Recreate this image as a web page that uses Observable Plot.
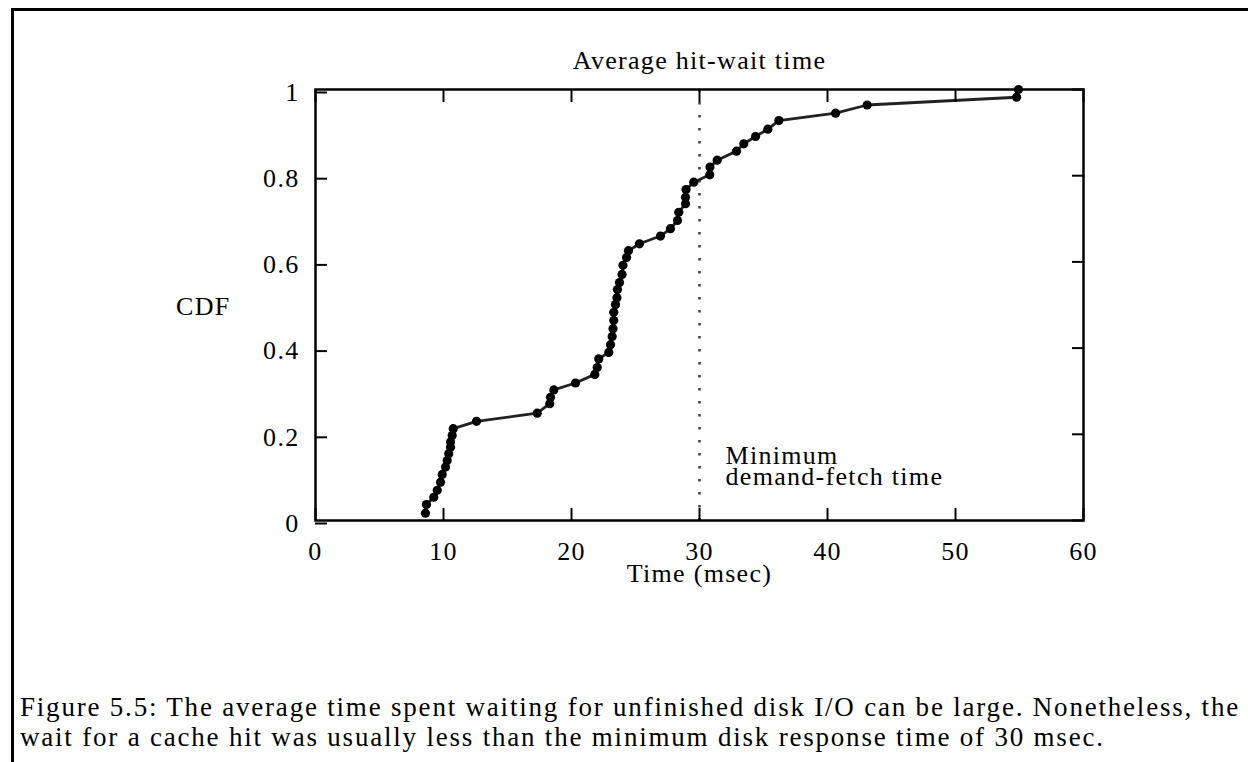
<!DOCTYPE html>
<html>
<head>
<meta charset="utf-8">
<script src="https://cdn.jsdelivr.net/npm/d3@7"></script>
<script src="https://cdn.jsdelivr.net/npm/@observablehq/plot@0.6"></script>
<style>
  html, body { margin: 0; padding: 0; background: #fff; }
  body { width: 1248px; height: 762px; overflow: hidden; position: relative; font-family: "Liberation Serif", serif; }
  #page { position: absolute; left: 11px; top: 8px; right: 0; bottom: 0; border-top: 3px solid #000; border-left: 3px solid #000; }
  #chart { position: absolute; left: 0; top: 0; }
  #caption { position: absolute; left: 20px; top: 692px; font-size: 27px; line-height: 30px; color: #000; }
  #caption span { white-space: nowrap; }
</style>
</head>
<body>
<div id="page"></div>
<div id="chart"></div>
<div id="caption">
  <div><span id="cap1">Figure 5.5: The average time spent waiting for unfinished disk I/O can be large. Nonetheless, the</span></div>
  <div><span id="cap2">wait for a cache hit was usually less than the minimum disk response time of 30 msec.</span></div>
</div>
<script>
// Data (Time in msec, CDF)
const timeMsec = [
  8.59, 8.67, 9.24, 9.51, 9.77, 9.90, 10.16, 10.29, 10.41, 10.55,
  10.55, 10.68, 10.76, 12.58, 17.32, 18.30, 18.36, 18.62, 20.31, 21.82,
  22.01, 22.13, 22.91, 23.05, 23.18, 23.24, 23.30, 23.30, 23.44, 23.55,
  23.59, 23.75, 23.95, 24.02, 24.30, 24.45, 25.31, 26.95, 27.73, 28.28,
  28.38, 28.91, 28.91, 28.95, 29.55, 30.80, 30.82, 31.38, 32.89, 33.46,
  34.38, 35.34, 36.20, 40.63, 43.10, 54.77, 54.92
];
const cdf = [
  0.017, 0.037, 0.054, 0.070, 0.089, 0.107, 0.124, 0.139, 0.155, 0.170,
  0.182, 0.197, 0.213, 0.230, 0.249, 0.271, 0.286, 0.303, 0.319, 0.339,
  0.355, 0.375, 0.390, 0.408, 0.427, 0.445, 0.464, 0.483, 0.501, 0.517,
  0.536, 0.552, 0.571, 0.592, 0.610, 0.626, 0.642, 0.660, 0.677, 0.696,
  0.715, 0.735, 0.750, 0.768, 0.785, 0.802, 0.820, 0.836, 0.857, 0.874,
  0.891, 0.908, 0.928, 0.945, 0.964, 0.982, 1.000
];
const xTicks = [0, 10, 20, 30, 40, 50, 60];
const yTicks = [0, 0.2, 0.4, 0.6, 0.8, 1];
const xTickLabels = ["0", "10", "20", "30", "40", "50", "60"];
const yTickLabels = ["0", "0.2", "0.4", "0.6", "0.8", "1"];
const minimumFetch = [30];
const annotationText = ["Minimum\ndemand-fetch time"];
const annotationY = [0.122];
const titleText = "Average hit-wait time";
const xLabel = "Time (msec)";
const yLabel = "CDF";

const rows = timeMsec.map((t, i) => ({time: t, cdf: cdf[i]}));
const xFmt = d => xTickLabels[xTicks.indexOf(d)];
const yFmt = d => yTickLabels[yTicks.indexOf(d)];

const chart = Plot.plot({
  width: 1248,
  height: 600,
  marginLeft: 315,
  marginRight: 165,
  marginTop: 89,
  marginBottom: 80,
  style: {fontFamily: "'Liberation Serif', serif", fontSize: "26px", letterSpacing: "1.3px", color: "#000", background: "transparent", overflow: "visible"},
  x: {domain: [0, 60]},
  y: {domain: [0, 1]},
  marks: [
    Plot.ruleX(minimumFetch, {x: d => d, stroke: "#444", strokeWidth: 2.6, strokeDasharray: "2.6,10.4"}),
    Plot.line(rows, {x: "time", y: "cdf", stroke: "#222", strokeWidth: 2.8}),
    Plot.dot(rows, {x: "time", y: "cdf", r: 4.6, fill: "#000", stroke: "none"}),
    Plot.frame({stroke: "#000", strokeWidth: 2.5}),
    Plot.axisX({anchor: "bottom", ticks: xTicks, tickFormat: xFmt, tickSize: -12, tickPadding: 33, strokeWidth: 2, label: null}),
    Plot.axisX({anchor: "top", ticks: xTicks, tickFormat: () => "", tickSize: -12, strokeWidth: 2, label: null}),
    Plot.axisY({anchor: "left", ticks: yTicks, tickFormat: yFmt, tickSize: -12, tickPadding: 28, dy: 3, strokeWidth: 2, label: null}),
    Plot.axisY({anchor: "right", ticks: yTicks, tickFormat: () => "", tickSize: -12, strokeWidth: 2, label: null}),
    Plot.text([titleText], {frameAnchor: "top", lineAnchor: "middle", dy: -29, text: d => d}),
    Plot.text([yLabel], {frameAnchor: "left", lineAnchor: "middle", textAnchor: "end", dx: -85, dy: 2, text: d => d}),
    Plot.text([xLabel], {frameAnchor: "bottom", lineAnchor: "middle", dy: 53, text: d => d}),
    Plot.text(annotationText, {x: minimumFetch, y: annotationY, text: d => d, textAnchor: "start", dx: 26, lineHeight: 0.81, fontSize: 26})
  ]
});
document.getElementById("chart").appendChild(chart);

// Fit the caption's first line to the reference's text width
const cap1 = document.getElementById("cap1");
const cap2 = document.getElementById("cap2");
const targetWidth = 1220;
const natural = cap1.getBoundingClientRect().width;
const ls = (targetWidth - natural) / cap1.textContent.length;
cap1.style.letterSpacing = ls + "px";
cap2.style.letterSpacing = ls + "px";
</script>
</body>
</html>
